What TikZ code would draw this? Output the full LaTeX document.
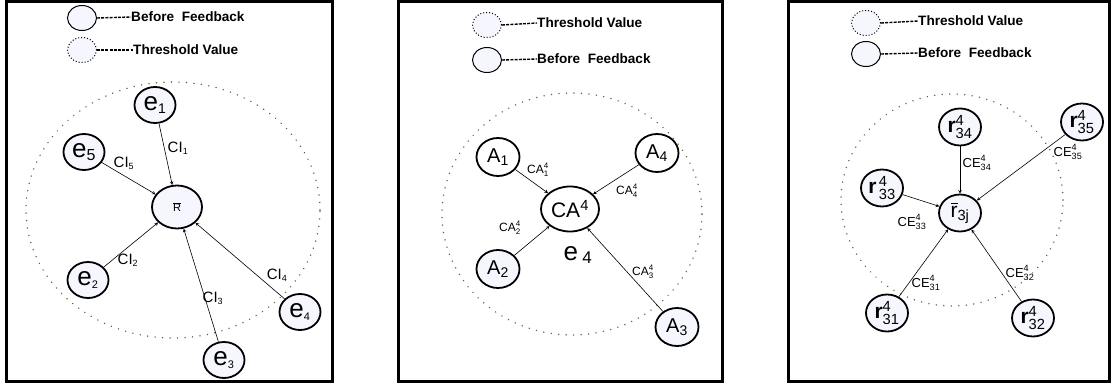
\documentclass[tikz,border=0pt]{standalone}
\usepackage{fontspec}
\usepackage{amsmath}
\setmainfont{Liberation Sans}
\usetikzlibrary{shapes.geometric}

\definecolor{nodefill}{RGB}{246,246,255}
\definecolor{dotcol}{RGB}{100,95,60}

\tikzset{
  panel/.style={line width=3pt},
  zone/.style={dotcol, line width=1.6pt, dash pattern=on 0.01pt off 7.5pt, line cap=round},
  ent/.style={ellipse, draw, line width=1.8pt, fill=nodefill, inner sep=0pt,
    minimum width=41pt, minimum height=36pt},
  hub/.style={ent, minimum width=48pt, minimum height=43pt},
  legsolid/.style={ellipse, draw, line width=1pt, fill=nodefill, inner sep=0pt,
    minimum width=29pt, minimum height=25pt},
  legdot/.style={legsolid, dash pattern=on 1pt off 2pt},
  legtext/.style={inner sep=0pt, anchor=west, font=\fontsize{13.6}{14}\selectfont\bfseries},
  legdash/.style={line width=1.4pt, dash pattern=on 3pt off 1.2pt},
  arr/.style={->, >=stealth, line width=0.6pt},
  lbl/.style={inner sep=0pt, font=\fontsize{15}{15}\selectfont},
  slbl/.style={inner sep=0pt, font=\fontsize{12}{12}\selectfont},
  big/.style={font=\fontsize{26}{26}\selectfont},
  abig/.style={font=\fontsize{20}{20}\selectfont, minimum width=43pt, minimum height=38pt},
  rbig/.style={font=\fontsize{21}{21}\selectfont, minimum width=42pt, minimum height=37pt},
  elbl/.style={inner sep=0pt, font=\fontsize{13}{13}\selectfont}
}
\newcommand{\sm}[2]{\textsubscript{\fontsize{#1}{#1}\selectfont #2}}

\begin{document}
\begin{tikzpicture}[x=1pt, y=-1pt]
  \useasboundingbox (0,0) rectangle (1113,390);

  % first panel
  \draw[panel] (6,1.5) rectangle (332,381);
  \node[legsolid] (ls1) at (82,18) {};
  \node[legtext] (ts1) at (131,17) {Before\ \ Feedback};
  \draw[legdash] (ls1.east) -- (ts1.west);
  \node[legdot] (ld1) at (82,50) {};
  \node[legtext] (td1) at (133,50) {Threshold Value};
  \draw[legdash] (ld1.east) -- (td1.west);
  \draw[zone] (173,210) ellipse [x radius=147pt, y radius=128pt];

  \node[hub, minimum width=50pt] (R) at (177,207) {\fontsize{11}{11}\selectfont$\overline{\text{R}}$};
  \node[ent, big] (e1) at (155,105) {e\sm{14}{1}};
  \node[ent, big] (e5) at (84,152) {e\sm{16}{5}};
  \node[ent, big] (e2) at (88,280) {e\sm{11}{2}};
  \node[ent, big] (e3) at (224,360) {e\sm{11}{3}};
  \node[ent, big] (e4) at (300,312) {e\sm{11}{4}};
  \draw[arr] (e1) -- (R);
  \draw[arr] (e5) -- (R);
  \draw[arr] (e2) -- (R);
  \draw[arr] (e3) -- (R);
  \draw[arr] (e4) -- (R);
  \node[lbl] (l1) at (178,148) {CI\sm{9}{1}};
  \node[lbl] (l5) at (124,163) {CI\sm{9}{5}};
  \node[lbl] (l2) at (128,260) {CI\sm{9}{2}};
  \node[lbl] (l3) at (213,298) {CI\sm{9}{3}};
  \node[lbl] (l4) at (277,275) {CI\sm{9}{4}};

  % second panel
  \draw[panel] (398,1.5) rectangle (722,381);
  \node[legdot] (ld2) at (487,25) {};
  \node[legtext] (td2) at (537,23) {Threshold Value};
  \draw[legdash] (ld2.east) -- (td2.west);
  \node[legsolid] (ls2) at (487,60) {};
  \node[legtext] (ts2) at (537,59) {Before\ \ Feedback};
  \draw[legdash] (ls2.east) -- (ts2.west);
  \draw[zone] (572,214) ellipse [x radius=130pt, y radius=121pt];

  \node[hub, fill=white, minimum width=58pt, minimum height=45pt,
    font=\fontsize{21}{21}\selectfont] (CA) at (570,209) {CA\textsuperscript{4}};
  \node[ent, abig, fill=white] (A1) at (498,157) {A\textsubscript{1}};
  \node[ent, abig, fill=white] (A4) at (657,153) {A\textsubscript{4}};
  \node[ent, abig] (A2) at (498,269) {A\textsubscript{2}};
  \node[ent, abig] (A3) at (677,327) {A\textsubscript{3}};
  \draw[arr] (A1) -- (CA);
  \draw[arr] (A4) -- (CA);
  \draw[arr] (A2) -- (CA);
  \draw[arr] (A3) -- (CA);
  \node[big, inner sep=0pt] (ee4) at (578,255) {e\,\sm{17}{4}};
  \node[slbl] (c1) at (538,170) {$\text{CA}^{\text{4}}_{\text{1}}$};
  \node[slbl] (c4) at (627,191) {$\text{CA}^{\text{4}}_{\text{4}}$};
  \node[slbl] (c2) at (510,228) {$\text{CA}^{\text{4}}_{\text{2}}$};
  \node[slbl] (c3) at (643,272) {$\text{CA}^{\text{4}}_{\text{3}}$};

  % third panel
  \draw[panel] (788,1.5) rectangle (1109,381);
  \node[legdot] (ld3) at (866,23) {};
  \node[legtext] (td3) at (918,21) {Threshold Value};
  \draw[legdash] (ld3.east) -- (td3.west);
  \node[legsolid] (ls3) at (866,54) {};
  \node[legtext] (ts3) at (918,53) {Before\ \ Feedback};
  \draw[legdash] (ls3.east) -- (ts3.west);
  \draw[zone] (952,200) ellipse [x radius=111pt, y radius=106pt];

  \node[ent, rbig] (rj) at (960,213) {$\overline{\text{r}}_{\text{3j}}$};
  \node[ent, rbig] (r34) at (960,127) {\textbf{r}$^{\text{4}}_{\text{34}}$};
  \node[ent, rbig] (r35) at (1082,122) {\textbf{r}$^{\text{4}}_{\text{35}}$};
  \node[ent, rbig] (r33) at (882,188) {\textbf{r}$^{\,\text{4}}_{\,\text{33}}$};
  \node[ent, rbig] (r31) at (887,313) {\textbf{r}$^{\text{4}}_{\text{31}}$};
  \node[ent, rbig] (r32) at (1033,318) {\textbf{r}$^{\text{4}}_{\text{32}}$};
  \draw[arr] (r34) -- (rj);
  \draw[arr] (r35) -- (rj);
  \draw[arr] (r33) -- (rj);
  \draw[arr] (r31) -- (rj);
  \draw[arr] (r32) -- (rj);
  \node[elbl] (k34) at (977,163) {$\text{CE}^{\text{4}}_{\text{34}}$};
  \node[elbl] (k35) at (1068,152) {$\text{CE}^{\text{4}}_{\text{35}}$};
  \node[elbl] (k33) at (912,222) {$\text{CE}^{\text{4}}_{\text{33}}$};
  \node[elbl] (k31) at (926,283) {$\text{CE}^{\text{4}}_{\text{31}}$};
  \node[elbl] (k32) at (1020,273) {$\text{CE}^{\text{4}}_{\text{32}}$};
\end{tikzpicture}
\end{document}
